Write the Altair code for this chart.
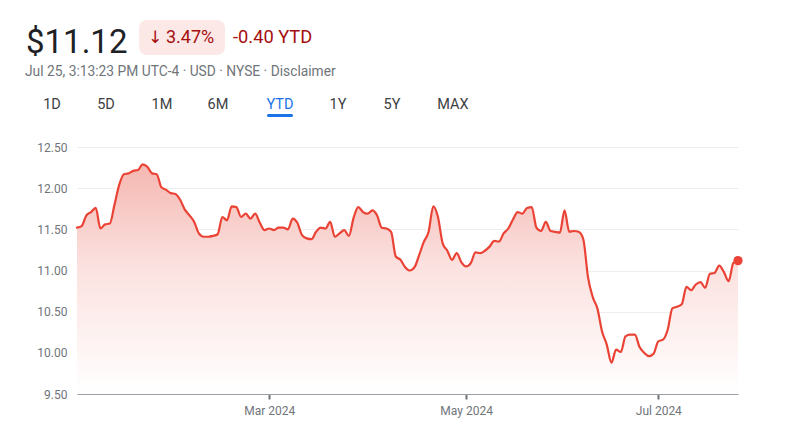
import altair as alt
import pandas as pd

# ---- data (one close per trading day, Jan 2 - Jul 25 2024) ----
prices = [
    11.52, 11.54, 11.67, 11.71, 11.76, 11.51, 11.56, 11.57, 11.80, 12.04,
    12.17, 12.18, 12.21, 12.22, 12.29, 12.26, 12.18, 12.17, 12.01, 11.98,
    11.94, 11.93, 11.86, 11.74, 11.67, 11.59, 11.45, 11.41, 11.41, 11.42,
    11.44, 11.65, 11.61, 11.78, 11.77, 11.65, 11.69, 11.63, 11.69, 11.58,
    11.49, 11.51, 11.49, 11.52, 11.52, 11.50, 11.63, 11.58, 11.43, 11.39,
    11.38, 11.47, 11.52, 11.51, 11.59, 11.41, 11.45, 11.49, 11.42, 11.64,
    11.77, 11.71, 11.69, 11.73, 11.67, 11.52, 11.51, 11.47, 11.17, 11.13,
    11.04, 11.00, 11.04, 11.19, 11.35, 11.47, 11.78, 11.65, 11.33, 11.24,
    11.13, 11.21, 11.10, 11.05, 11.09, 11.22, 11.21, 11.24, 11.29, 11.36,
    11.35, 11.45, 11.51, 11.62, 11.71, 11.69, 11.76, 11.77, 11.52, 11.48,
    11.59, 11.48, 11.47, 11.46, 11.73, 11.47, 11.48, 11.47, 11.38, 10.92,
    10.68, 10.54, 10.26, 10.10, 9.88, 10.04, 10.01, 10.20, 10.22, 10.22,
    10.07, 10.00, 9.96, 9.99, 10.14, 10.16, 10.28, 10.54, 10.56, 10.59,
    10.80, 10.76, 10.83, 10.86, 10.79, 10.96, 10.97, 11.06, 10.98, 10.87,
    11.09, 11.12,
]
day_index = list(range(len(prices)))

x_tick_index = [41, 83, 124]
x_tick_labels = ["Mar 2024", "May 2024", "Jul 2024"]
y_ticks = [9.5, 10.0, 10.5, 11.0, 11.5, 12.0, 12.5]

price_text = "$11.12"
change_pct = "3.47%"
change_abs = "-0.40 YTD"
subtitle = "Jul 25, 3:13:23 PM UTC-4 · USD · NYSE · Disclaimer"
tabs = ["1D", "5D", "1M", "6M", "YTD", "1Y", "5Y", "MAX"]
tab_x = [-25, 29, 85, 141, 203, 261, 315, 376]
active_tab = "YTD"

df = pd.DataFrame({"i": day_index, "price": prices})
last = df.tail(1)

FONT = "Roboto"
RED = "#ea4335"

label_expr = ""
for v, lab in zip(x_tick_index, x_tick_labels):
    label_expr += f"datum.value == {v} ? '{lab}' : "
label_expr += "''"

x_enc = alt.X(
    "i:Q",
    scale=alt.Scale(domain=[0, len(prices) - 1], nice=False, zero=False),
    axis=alt.Axis(
        values=x_tick_index, labelExpr=label_expr, grid=False, domain=True,
        domainColor="#9aa0a6", domainWidth=1, ticks=True, tickColor="#70757a",
        tickSize=5, tickWidth=2, labelColor="#70757a", labelFont=FONT,
        labelFontSize=12, labelPadding=6, title=None,
    ),
)
y_scale = alt.Scale(domain=[9.5, 12.5], nice=False, zero=False)
y_enc = alt.Y(
    "price:Q",
    scale=y_scale,
    axis=alt.Axis(
        values=y_ticks, format=".2f", grid=True, gridColor="#eeeeee",
        domain=False, ticks=False, labelColor="#70757a", labelFont=FONT,
        labelFontSize=12, labelPadding=10, title=None,
    ),
)

base = alt.Chart(df)
area = base.mark_area(
    interpolate="monotone",
    color=alt.Gradient(
        gradient="linear",
        stops=[
            alt.GradientStop(color="#f5b7b1", offset=0),
            alt.GradientStop(color="#fbe2e0", offset=0.45),
            alt.GradientStop(color="#ffffff", offset=1),
        ],
        x1=0, x2=0, y1=0, y2=1,
    ),
).encode(x=x_enc, y=y_enc, y2=alt.datum(9.5))

line = base.mark_line(
    interpolate="monotone", color=RED, strokeWidth=2.2, strokeCap="round"
).encode(x="i:Q", y="price:Q")

dot = alt.Chart(last).mark_circle(color=RED, size=85, opacity=1).encode(
    x="i:Q", y="price:Q"
)

one = alt.Data(values=[{}])


def txt(text, x, y, size, color, align="left", weight="normal", font=FONT):
    return alt.Chart(one).mark_text(
        text=text, align=align, baseline="alphabetic", fontSize=size,
        color=color, font=font, fontWeight=weight,
    ).encode(x=alt.value(x), y=alt.value(y))


layers = [area, line, dot]
layers.append(txt(price_text, -51, -94, 33, "#202124"))
layers.append(
    alt.Chart(one).mark_rect(color="#fce8e6", cornerRadius=8).encode(
        x=alt.value(62), x2=alt.value(148), y=alt.value(-127), y2=alt.value(-92)
    )
)
layers.append(txt("↓", 78, -104, 17, "#a50e0e", align="center", font="DejaVu Sans"))
layers.append(txt(change_pct, 89, -104, 18, "#a50e0e"))
layers.append(txt(change_abs, 156, -104, 18.3, "#a50e0e"))
layers.append(txt(subtitle, -52, -71, 13.8, "#70757a"))
for t, tx in zip(tabs, tab_x):
    color = "#1a73e8" if t == active_tab else "#3c4043"
    layers.append(txt(t, tx, -38, 14.5, color, align="center"))
layers.append(
    alt.Chart(one).mark_rect(color="#1a73e8", cornerRadius=2).encode(
        x=alt.value(190), x2=alt.value(216), y=alt.value(-33), y2=alt.value(-30)
    )
)

chart = alt.layer(*layers).properties(
    width=661,
    height=247,
    autosize=alt.AutoSizeParams(type="none"),
    padding={"left": 77, "top": 147, "right": 53, "bottom": 50},
    background="white",
).configure_view(stroke=None)

chart.save("out.html", embed_options={"renderer": "svg", "actions": False})
